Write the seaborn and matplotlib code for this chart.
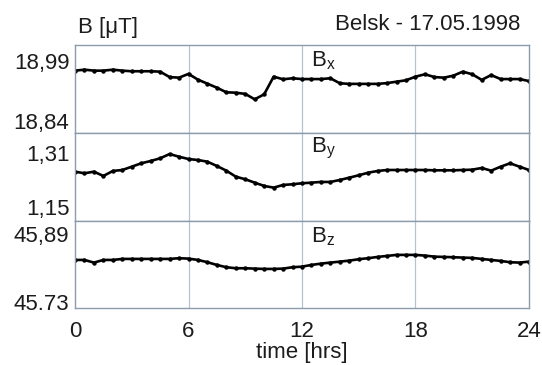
import numpy as np
import pandas as pd
import matplotlib
matplotlib.use("Agg")
import matplotlib.pyplot as plt
import seaborn as sns

# half-hourly readings, 17.05.1998, Belsk
hours = np.linspace(0, 24, 49)

bx = [18.965, 18.9675, 18.965, 18.965, 18.9675, 18.965, 18.9635, 18.9635, 18.9635, 18.9625,
      18.949, 18.9475, 18.957, 18.9425, 18.9325, 18.9225, 18.911, 18.910, 18.907, 18.8935,
      18.906, 18.950, 18.9435, 18.946, 18.944, 18.944, 18.944, 18.946, 18.9335, 18.932,
      18.932, 18.932, 18.932, 18.934, 18.9375, 18.941, 18.950, 18.956, 18.949, 18.9475,
      18.9525, 18.9625, 18.956, 18.942, 18.954, 18.944, 18.944, 18.944, 18.939]

by = [1.2543, 1.2495, 1.2543, 1.2415, 1.2564, 1.2593, 1.2692, 1.2793, 1.2862, 1.2942,
      1.3070, 1.2990, 1.2921, 1.2891, 1.2841, 1.2713, 1.2573, 1.2394, 1.2316, 1.2215,
      1.2117, 1.2066, 1.2146, 1.2167, 1.2197, 1.2215, 1.2236, 1.2236, 1.2295, 1.2364,
      1.2435, 1.2513, 1.2564, 1.2593, 1.2593, 1.2593, 1.2593, 1.2593, 1.2584, 1.2584,
      1.2584, 1.2593, 1.2603, 1.2653, 1.2573, 1.2692, 1.2793, 1.2692, 1.2593]

bz = [45.8285, 45.8285, 45.8222, 45.8285, 45.8285, 45.8309, 45.8309, 45.8309, 45.8309, 45.8309,
      45.8309, 45.8326, 45.8316, 45.8285, 45.8231, 45.8167, 45.8113, 45.8089, 45.8089, 45.8080,
      45.8073, 45.8073, 45.8080, 45.8113, 45.8127, 45.8167, 45.8198, 45.8222, 45.8245, 45.8269,
      45.8302, 45.8326, 45.8356, 45.8380, 45.8404, 45.8404, 45.8404, 45.8387, 45.8363, 45.8356,
      45.8349, 45.8340, 45.8333, 45.8309, 45.8285, 45.8262, 45.8231, 45.8222, 45.8245]

components = ["x", "y", "z"]
tick_vals = [[18.84, 18.99], [1.15, 1.31], [45.73, 45.89]]
tick_txt = [["18,84", "18,99"], ["1,15", "1,31"], ["45.73", "45,89"]]
limits = [(18.81, 19.029), (1.1083, 1.3705), (45.7144, 45.9214)]
x_ticks = [0, 6, 12, 18, 24]

sns.set_theme(style="white")
plt.rcParams["font.family"] = ["Liberation Sans", "DejaVu Sans"]

frame_col = "#8c9cac"
grid_col = "#b4c3d2"
txt_col = "#1c1c1c"
fs = 16

fig, axes = plt.subplots(3, 1, sharex=True, figsize=(5.42, 3.65), dpi=100,
                         gridspec_kw={"hspace": 0})
fig.subplots_adjust(left=0.1384, right=0.976, top=0.8767, bottom=0.1553)

for ax, vals, comp, tv, tt, lim in zip(axes, [bx, by, bz], components, tick_vals, tick_txt, limits):
    df = pd.DataFrame({"t": hours, "B": vals})
    sns.lineplot(data=df, x="t", y="B", ax=ax, color="black", linewidth=1.9,
                 marker="o", markersize=3.2, markeredgewidth=0)
    ax.set_xlim(0, 24)
    ax.set_ylim(*lim)
    ax.set_yticks(tv)
    ax.set_yticklabels(tt)
    ax.set_xticks(x_ticks)
    for g in [6, 12, 18]:
        ax.axvline(g, color=grid_col, linewidth=0.9, zorder=0)
    for s in ax.spines.values():
        s.set_color(frame_col)
        s.set_linewidth(1.0)
    ax.tick_params(axis="y", length=0, pad=4, labelsize=fs, labelcolor=txt_col)
    ax.tick_params(axis="x", length=0, pad=9, labelsize=fs, labelcolor=txt_col)
    ax.set_xlabel("")
    ax.set_ylabel("")
    ax.text(12.45, 0.82, "B$_{\\mathregular{%s}}$" % comp, transform=ax.get_xaxis_transform(),
            ha="left", va="center", fontsize=fs, color=txt_col)

axes[-1].set_xlabel("time [hrs]", fontsize=fs, color=txt_col, labelpad=0)
fig.text(78 / 542, 1 - 28 / 365, "B [\u03bcT]", ha="left", va="center", fontsize=fs, color=txt_col)
fig.text(520 / 542, 1 - 25 / 365, "Belsk - 17.05.1998", ha="right", va="center",
         fontsize=fs, color=txt_col)

fig.savefig("out.png", dpi=100, facecolor="white")
